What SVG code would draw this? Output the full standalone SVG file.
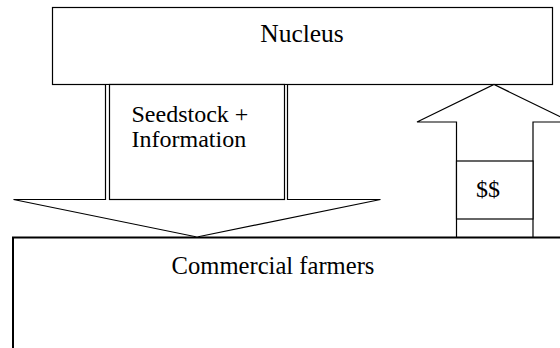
<svg xmlns="http://www.w3.org/2000/svg" width="560" height="348" viewBox="0 0 560 348">
<style>
.box{fill:#fff;stroke:#000;stroke-width:1.2}
.thick{fill:#fff;stroke:#000;stroke-width:2}
.lbl{font-family:"Liberation Serif","Times New Roman",serif;font-size:24px;fill:#000}
</style>
<rect width="560" height="348" fill="#fff"/>
<g id="farmers">
<rect class="thick" x="13" y="237.5" width="600" height="200"/>
<text class="lbl" x="273" y="274" text-anchor="middle" style="font-size:24.6px">Commercial farmers</text>
</g>
<g id="nucleus">
<rect class="box" x="52.5" y="7.5" width="500" height="77"/>
<text class="lbl" x="302" y="42" text-anchor="middle" style="font-size:25.5px">Nucleus</text>
</g>
<g id="connectors">
<g id="down-arrow">
<polygon class="box" points="105.5,84.5 105.5,199.5 13.5,199.5 197,237 380.5,199.5 287.5,199.5 287.5,84.5"/>
<rect class="box" x="109.5" y="84.5" width="175" height="115"/>
<text class="lbl" x="131.5" y="122">Seedstock +</text>
<text class="lbl" x="131.5" y="147">Information</text>
</g>
<g id="up-arrow">
<polygon class="box" points="456.5,237 456.5,122 417,122 494,84.5 571,122 533,122 533,237"/>
<rect class="box" x="456.5" y="161" width="76.5" height="58"/>
<text class="lbl" x="476" y="197">$$</text>
</g>
</g>
</svg>
